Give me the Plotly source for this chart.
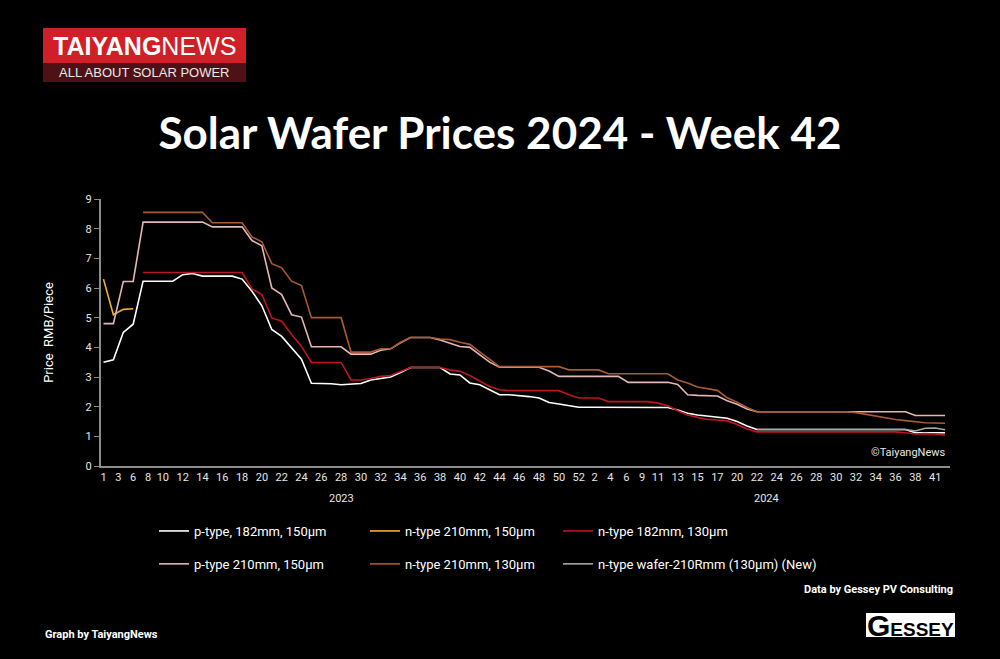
import numpy as np
import plotly.graph_objects as go

# calendar weeks that have a price point (some holiday weeks are missing)
weeks_2023 = [1, 3, 5, 6, 8, 9] + list(range(10, 53))
weeks_2024 = [1, 2, 4, 5, 6, 8, 9, 11, 12, 13, 14, 15, 16, 17] + list(range(19, 39)) + [40, 41, 42]

# week labels printed on the x axis
ticks_2023 = [1, 3, 6, 8] + list(range(10, 53, 2))
ticks_2024 = [2, 4, 6, 9, 11, 13, 15, 17] + list(range(20, 39, 2)) + [41]

# prices in RMB/piece, one value per week above (None = no quote)
p182_150 = [3.5, 3.58, 4.5, 4.78, 6.23, 6.23, 6.23, 6.23, 6.45, 6.49,
            6.4, 6.4, 6.4, 6.4, 6.3, 5.89, 5.4, 4.6, 4.37, 3.97,
            3.6, 2.79, 2.79, 2.77, 2.74, 2.77, 2.78, 2.9, 2.96, 3.0,
            3.15, 3.32, 3.32, 3.32, 3.32, 3.1, 3.07, 2.8, 2.74, 2.57,
            2.4, 2.4, 2.38, 2.34, 2.29, 2.14, 2.09, 2.03, 1.98, 1.98,
            1.98, 1.98, 1.98, 1.98, 1.98, 1.98, 1.98, 1.97, 1.89, 1.78,
            1.72, 1.69, 1.66, 1.61, 1.5, 1.35, 1.23, 1.23, 1.23, 1.23,
            1.23, 1.23, 1.23, 1.23, 1.23, 1.23, 1.23, 1.23, 1.23, 1.23,
            1.23, 1.23, 1.12, 1.12, 1.12, 1.12]

n210_150 = [6.3, 5.1, 5.28, 5.3] + [None] * 82

n182_130 = [None, None, None, None, 6.52, 6.52, 6.52, 6.52, 6.52, 6.52,
            6.52, 6.52, 6.52, 6.52, 6.52, 5.97, 5.78, 4.99, 4.88, 4.43,
            4.03, 3.49, 3.49, 3.49, 3.49, 2.9, 2.9, 2.95, 3.02, 3.05,
            3.19, 3.32, 3.32, 3.32, 3.32, 3.24, 3.19, 3.05, 2.87, 2.68,
            2.57, 2.54, 2.54, 2.54, 2.54, 2.54, 2.54, 2.4, 2.29, 2.29,
            2.29, 2.17, 2.17, 2.17, 2.17, 2.17, 2.12, 2.03, 1.86, 1.72,
            1.64, 1.57, 1.55, 1.52, 1.4, 1.25, 1.15, 1.15, 1.15, 1.15,
            1.15, 1.15, 1.15, 1.15, 1.15, 1.15, 1.15, 1.15, 1.15, 1.15,
            1.15, 1.12, 1.08, 1.09, 1.08, 1.04]

p210_150 = [4.8, 4.8, 6.22, 6.22, 8.22, 8.22, 8.22, 8.22, 8.22, 8.22,
            8.22, 8.06, 8.06, 8.06, 8.06, 7.6, 7.42, 6.0, 5.78, 5.1,
            5.02, 4.02, 4.02, 4.02, 4.02, 3.77, 3.77, 3.77, 3.9, 3.95,
            4.15, 4.33, 4.33, 4.33, 4.25, 4.15, 4.03, 4.0, 3.75, 3.5,
            3.33, 3.33, 3.33, 3.33, 3.33, 3.2, 3.02, 3.02, 3.02, 3.02,
            3.02, 3.02, 3.02, 2.82, 2.82, 2.82, 2.82, 2.82, 2.75, 2.4,
            2.38, 2.38, 2.36, 2.2, 2.08, 1.92, 1.83, 1.83, 1.83, 1.83,
            1.83, 1.83, 1.83, 1.83, 1.83, 1.83, 1.83, 1.83, 1.83, 1.83,
            1.83, 1.83, 1.7, 1.7, 1.7, 1.7]

n210_130 = [None, None, None, None, 8.55, 8.55, 8.55, 8.55, 8.55, 8.55,
            8.55, 8.2, 8.2, 8.2, 8.2, 7.72, 7.56, 6.82, 6.68, 6.23,
            6.08, 5.0, 5.0, 5.0, 5.0, 3.84, 3.84, 3.84, 3.95, 3.95,
            4.17, 4.33, 4.33, 4.33, 4.28, 4.26, 4.17, 4.1, 3.85, 3.6,
            3.35, 3.35, 3.35, 3.35, 3.35, 3.35, 3.35, 3.24, 3.24, 3.24,
            3.24, 3.11, 3.11, 3.11, 3.11, 3.11, 3.11, 3.11, 2.9, 2.8,
            2.66, 2.6, 2.55, 2.3, 2.15, 1.97, 1.83, 1.83, 1.83, 1.83,
            1.83, 1.83, 1.83, 1.83, 1.83, 1.83, 1.8, 1.74, 1.67, 1.61,
            1.57, 1.53, 1.49, 1.46, 1.45, 1.44]

n210r_130 = [None] * 66 + [1.23] * 16 + [1.18, 1.27, 1.28, 1.22]

# name, values, colour, legend column
series = [
    ("p-type, 182mm, 150µm", p182_150, "#ffffff", "legend"),
    ("n-type 210mm, 150µm", n210_150, "#f0b030", "legend2"),
    ("n-type 182mm, 130µm", n182_130, "#c0141f", "legend3"),
    ("p-type 210mm, 150µm", p210_150, "#e3b7b3", "legend"),
    ("n-type 210mm, 130µm", n210_130, "#a85a32", "legend2"),
    ("n-type wafer-210Rmm (130µm) (New)", n210r_130, "#a6a6a6", "legend3"),
]

n23 = len(weeks_2023)
x = list(range(n23 + len(weeks_2024)))

# tick positions: week index, but labels around the holiday gaps are spread
# evenly between the neighbouring regular labels (as the original axis does)
def tick_positions(weeks, ticks, offset, first_regular):
    pos = [offset + weeks.index(w) for w in ticks]
    k = ticks.index(first_regular)
    start = pos[0] if offset == 0 else offset - 1
    spread = np.linspace(start, pos[k], k + 1 if offset == 0 else k + 2)
    spread = spread if offset == 0 else spread[1:]
    return list(spread[:k]) + pos[k:]

tickvals = tick_positions(weeks_2023, ticks_2023, 0, 10) + tick_positions(weeks_2024, ticks_2024, n23, 11)
ticktext = [str(w) for w in ticks_2023 + ticks_2024]

# plot area in pixels (1000x659 page)
L, R, T, B = 101, 950, 199, 466
def px(xp):
    return (xp - L) / (R - L)
def py(yp):
    return (B - yp) / (B - T)

fig = go.Figure()
for name, vals, color, leg in series:
    fig.add_trace(go.Scatter(x=x, y=vals, name=name, mode="lines",
                             line=dict(color=color, width=1.6),
                             connectgaps=False, legend=leg, legendgroup=name))

tick_font = dict(family="Roboto", size=11, color="#e6e6e6")
leg_common = dict(orientation="v", xanchor="left", yanchor="top",
                  y=py(516), itemwidth=30, tracegroupgap=13,
                  bgcolor="rgba(0,0,0,0)",
                  font=dict(family="Roboto", size=13, color="#ffffff"))

fig.update_layout(
    width=1000, height=659,
    paper_bgcolor="#000000", plot_bgcolor="#000000",
    margin=dict(l=L, r=1000 - R, t=T, b=659 - B),
    title=dict(text="<b>Solar Wafer Prices 2024 - Week 42</b>",
               x=0.5, xref="container", xanchor="center",
               y=1 - 134 / 659, yref="container", yanchor="middle",
               font=dict(family="Lato", size=44, color="#ffffff")),
    xaxis=dict(range=[-0.25, 85.5], tickvals=tickvals, ticktext=ticktext,
               tickangle=0, showgrid=False, zeroline=False,
               showline=True, linecolor="#8c8c8c", linewidth=2,
               ticks="", tickfont=tick_font),
    yaxis=dict(range=[0, 9], dtick=1, showgrid=False, zeroline=False,
               showline=True, linecolor="#8c8c8c", linewidth=2,
               ticks="outside", ticklen=5, tickcolor="#8c8c8c", tickwidth=1,
               tickfont=tick_font,
               title=dict(text="Price  RMB/Piece", standoff=29,
                          font=dict(family="Roboto", size=13, color="#ffffff"))),
    legend=dict(x=px(154), **leg_common),
    legend2=dict(x=px(365), **leg_common),
    legend3=dict(x=px(558), **leg_common),
    showlegend=True,
)

def note(xp, yp, text, font, xanchor="center", xref="paper"):
    fig.add_annotation(x=xp, y=yp, xref=xref, yref="paper", xanchor=xanchor,
                       yanchor="middle", text=text, showarrow=False, font=font)

# year labels under the week numbers
note((n23 - 1) / 2, py(498), "2023", tick_font, xref="x")
note(n23 + (len(weeks_2024) - 1) / 2, py(498), "2024", tick_font, xref="x")

note(px(948), py(452), "©TaiyangNews", dict(family="Roboto", size=11, color="#e6e6e6"), "right")

# TaiyangNews logo
fig.add_shape(type="rect", xref="paper", yref="paper", x0=px(43), x1=px(246),
              y0=py(63), y1=py(28), fillcolor="#d01f27", line_width=0, layer="below")
fig.add_shape(type="rect", xref="paper", yref="paper", x0=px(43), x1=px(246),
              y0=py(82), y1=py(63), fillcolor="#4e1216", line_width=0, layer="below")
note(px(144), py(46), "<b>TAIYANG</b>NEWS",
     dict(family="Liberation Sans", size=25, color="#ffffff"))
note(px(144), py(73), "ALL ABOUT SOLAR POWER",
     dict(family="Liberation Sans", size=13, color="#e8e8e8"))

# footer
note(px(955), py(589), "<b>Data by Gessey PV Consulting</b>",
     dict(family="Roboto", size=11, color="#ffffff"), "right")
note(px(43), py(634), "<b>Graph by TaiyangNews</b>",
     dict(family="Roboto", size=11, color="#ffffff"), "left")
fig.add_shape(type="rect", xref="paper", yref="paper", x0=px(866), x1=px(955),
              y0=py(637), y1=py(613), fillcolor="#ffffff", line_width=0, layer="below")
note(px(910), py(625), "<b><span style='font-size:30px'>G</span>ESSEY</b>",
     dict(family="Liberation Sans", size=19, color="#000000"))

fig.write_html("out.html", config={"displayModeBar": False},
               post_script="document.body.style.margin='0';")
